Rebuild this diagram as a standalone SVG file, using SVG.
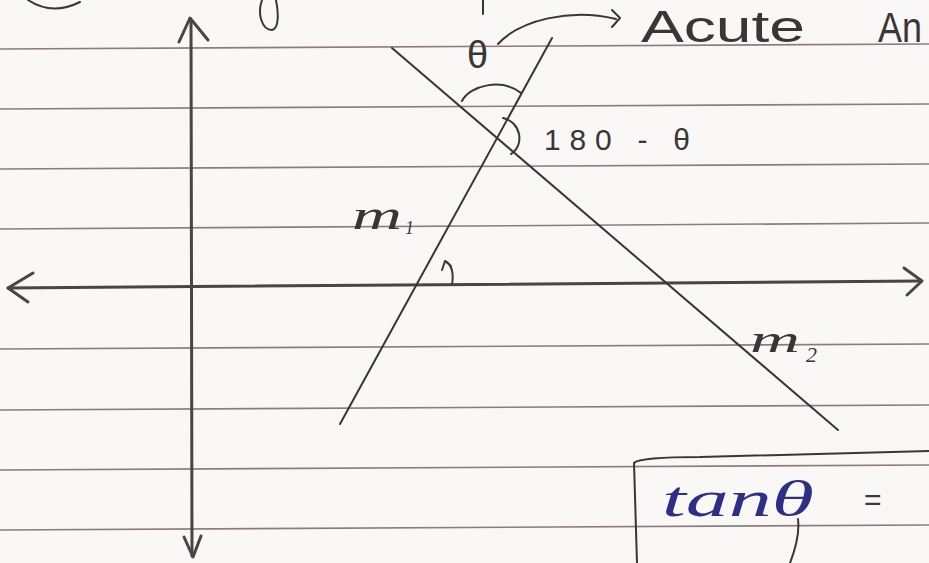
<svg xmlns="http://www.w3.org/2000/svg" width="929" height="563" viewBox="0 0 929 563">
<defs>
<style>
.rule{stroke:#8a7d7b;stroke-width:1.6;fill:none}
.pen{stroke:#3b3535;stroke-width:2;fill:none;stroke-linecap:round;stroke-linejoin:round}
.axis{stroke:#4a4444;stroke-width:3;fill:none;stroke-linecap:round;stroke-linejoin:round}
.hand{font-family:"Liberation Sans","DejaVu Sans",sans-serif;fill:#3b3535}
.math{font-family:"Liberation Serif","DejaVu Serif",serif;font-style:italic;fill:#3b3535}
.blue{font-family:"Liberation Serif","DejaVu Serif",serif;font-style:italic;fill:#2c2f85}
</style>
</defs>
<rect width="929" height="563" fill="#faf8f7"/>
<g id="paper">
<line class="rule" x1="0" y1="49" x2="929" y2="44"/>
<line class="rule" x1="0" y1="109" x2="929" y2="104"/>
<line class="rule" x1="0" y1="169" x2="929" y2="164"/>
<line class="rule" x1="0" y1="229" x2="929" y2="223"/>
<line class="rule" x1="0" y1="349" x2="929" y2="344"/>
<line class="rule" x1="0" y1="410" x2="929" y2="405"/>
<line class="rule" x1="0" y1="470" x2="929" y2="465"/>
<line class="rule" x1="0" y1="530" x2="929" y2="525"/>
</g>
<g id="fragments">
<path class="pen" d="M28,0 Q52,16 80,2"/>
<path class="pen" d="M262,0 C257,14 262,30 272,30 C280,28 278,10 276,0"/>
<path class="pen" d="M483,0 L483,14"/>
</g>
<g id="axes">
<line class="axis" x1="191" y1="20" x2="192" y2="556"/>
<polyline class="axis" points="179,42 190,18 208,40"/>
<polyline class="axis" points="184,537 193,557 201,536"/>
<line class="axis" x1="8" y1="288" x2="921" y2="281"/>
<polyline class="axis" points="33,273 8,288 28,302"/>
<polyline class="axis" points="904,268 922,281 907,295"/>
</g>
<g id="line-m1">
<line class="pen" x1="340" y1="424" x2="552" y2="38"/>
<text class="math" x="352" y="229" font-size="40" textLength="50" lengthAdjust="spacingAndGlyphs">m</text>
<text class="math" x="405" y="234" font-size="18">1</text>
</g>
<g id="line-m2">
<line class="pen" x1="392" y1="48" x2="838" y2="430"/>
<text class="math" x="750" y="352" font-size="38" textLength="50" lengthAdjust="spacingAndGlyphs">m</text>
<text class="math" x="806" y="362" font-size="22">2</text>
</g>
<g id="angles">
<path class="pen" d="M462,101 C470,85 502,78 521,93"/>
<path class="pen" d="M503,118 C521,122 525,145 511,154"/>
<path class="pen" d="M452,285 Q455,266 445,261 M445,261 L442,270 M445,261 L451,266"/>
<text class="hand" x="467" y="68" font-size="38">θ</text>
<text class="hand" x="544" y="150" font-size="30" textLength="146" lengthAdjust="spacing">180 - θ</text>
</g>
<g id="connectors">
<path class="pen" d="M498,44 C520,20 570,8 616,19"/>
<polyline class="pen" points="612,10 620,18 612,27"/>
</g>
<g id="acute">
<text class="hand" x="641" y="42" font-size="44" textLength="164" lengthAdjust="spacingAndGlyphs">Acute</text>
<text class="hand" x="878" y="42" font-size="42" textLength="44" lengthAdjust="spacingAndGlyphs">An</text>
</g>
<g id="formula">
<path class="pen" d="M634,463 L637,563"/>
<path class="pen" d="M634,463 Q640,457 700,457 L929,451"/>
<text class="blue" x="662" y="516" font-size="50" textLength="152" lengthAdjust="spacingAndGlyphs">tanθ</text>
<text class="hand" x="864" y="510" font-size="30">=</text>
<path class="pen" d="M798,519 C800,535 795,550 790,563"/>
</g>
</svg>
